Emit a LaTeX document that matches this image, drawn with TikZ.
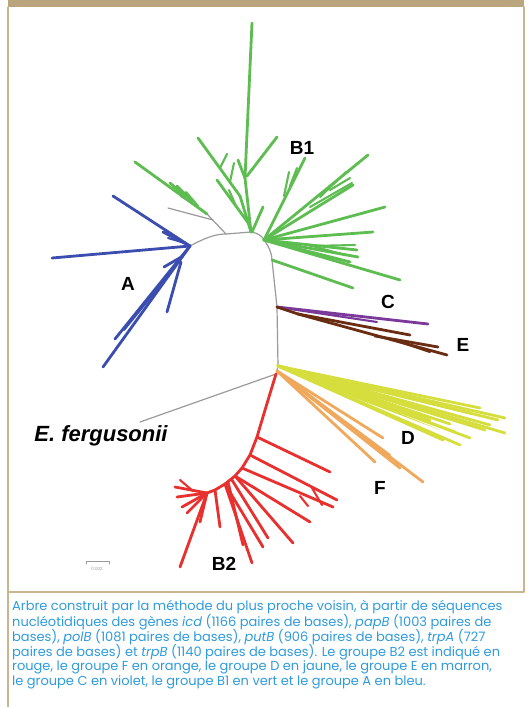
\documentclass[tikz,border=0pt]{standalone}
\usepackage{fontspec}
\setmainfont{Liberation Sans}
\newfontfamily\capfont{Poppins}
\definecolor{tan}{HTML}{BBA57F}
\definecolor{frame}{HTML}{C9B690}
\definecolor{capblue}{HTML}{2F9BDC}
\definecolor{gB}{HTML}{5DBD50}
\definecolor{bA}{HTML}{3B4DAE}
\definecolor{rB}{HTML}{E8302F}
\definecolor{yD}{HTML}{D6DE3E}
\definecolor{oF}{HTML}{F0A95C}
\definecolor{brE}{HTML}{6A2C12}
\definecolor{pC}{HTML}{7B3A99}
\definecolor{gr}{HTML}{9A9A9A}
\begin{document}
\begin{tikzpicture}[x=1pt,y=-1pt,line cap=round,line join=round,
  br/.style={line width=2.8pt},
  thin br/.style={line width=2.1pt},
  grayline/.style={gr,line width=1.2pt},
  lbl/.style={font=\bfseries\fontsize{19}{19}\selectfont,text=black,inner sep=0pt},
  capline/.style={anchor=west,inner sep=0pt,text=capblue,font=\capfont\fontsize{13}{14}\selectfont}]
\useasboundingbox (0,0) rectangle (532,707);
% frame
\fill[tan] (8,0) rectangle (524,7);
\draw[frame,line width=1.2pt] (8,7) -- (8,707);
\draw[frame,line width=1.2pt] (524,7) -- (524,592);
\draw[frame,line width=1.2pt] (8,592) -- (524,592);
% backbone coordinates
\coordinate (nA) at (190,246);
\coordinate (nG1) at (226,234);
\coordinate (nB1) at (251,232);
\coordinate (nB1r) at (264,240);
\coordinate (nB1l) at (272,260);
\coordinate (nC) at (277,307);
\coordinate (nD) at (278,366);
\coordinate (nB2) at (276,374);
\coordinate (nEf) at (140,422);
\draw[grayline] (nA) .. controls (205,238) and (215,234) .. (nG1) -- (nB1)
  .. controls (258,233) and (262,236) .. (nB1r)
  .. controls (270,248) and (272,255) .. (nB1l) -- (nC) -- (nD) -- (nB2);
\draw[grayline] (nB2) -- (nEf);
% gray subtree
\coordinate (nG2) at (207,214);
\draw[grayline] (nG1) -- (nG2);
\draw[grayline] (213,220) -- (168,208);
\draw[grayline] (203,210) -- (180,196);
% green upper-left
\draw[gB,br] (nG2) -- (135,162);
\draw[gB,br] (192,201) -- (177,186);
\draw[gB,br] (185,196) -- (170,183);
\draw[gB,thin br] (198,206) -- (186,192);
% green central
\coordinate (nV) at (245,178);
\draw[gB,br] (nB1) -- (nV) -- (252,23);
\draw[gB,br] (247,176) -- (277,137);
\draw[gB,br] (nV) -- (238,160);
\draw[gB,br] (nB1) -- (240,196) -- (198,138);
\draw[gB,thin br] (230,182) -- (234,163);
\draw[gB,thin br] (220,168) -- (227,154);
\draw[gB,br] (249,224) -- (217,180);
\draw[gB,thin br] (236,206) -- (229,190);
\draw[gB,br] (252,232) -- (263,207);
% green right fan
\draw[gB,br] (nB1r) -- (305,158);
\draw[gB,thin br] (284,196) -- (289,172);
\draw[gB,thin br] (290,186) -- (297,168);
\draw[gB,br] (nB1r) -- (368,155);
\draw[gB,thin br] (320,197) -- (346,172);
\draw[gB,thin br] (330,190) -- (350,178);
\draw[gB,thin br] (310,207) -- (352,183);
\draw[gB,br] (nB1r) -- (353,185);
\draw[gB,br] (nB1r) -- (385,207);
\draw[gB,br] (nB1r) -- (373,232);
\draw[gB,br] (nB1r) -- (357,250);
\draw[gB,br] (nB1r) -- (358,257);
\draw[gB,br] (nB1r) -- (350,262);
\draw[gB,br] (nB1r) -- (400,280);
\draw[gB,thin br] (310,246) -- (355,245);
\draw[gB,thin br] (305,244) -- (345,255);
\draw[gB,br] (nB1l) -- (353,288);
% blue A
\draw[bA,br] (nA) -- (113,196);
\draw[bA,br] (nA) -- (163,232);
\draw[bA,thin br] (185,243) -- (168,238);
\draw[bA,br] (nA) -- (52,258);
\draw[bA,br] (nA) -- (103,367);
\draw[bA,br] (nA) -- (115,339);
\draw[bA,br] (181,262) -- (167,312);
\draw[bA,br] (183,256) -- (164,267);
\draw[bA,thin br] (176,266) -- (124,330);
% purple C and brown E
\coordinate (nE) at (298,314);
\draw[pC,br] (nC) -- (428,324);
\draw[pC,thin br] (nC) -- (377,322);
\draw[brE,br] (nC) -- (nE);
\draw[brE,br] (nE) -- (410,335);
\draw[brE,br] (nE) -- (447,355);
\draw[brE,br] (375,336) -- (438,347);
\draw[brE,thin br] (400,342) -- (430,352);
% yellow D
\foreach \e in {(505,418),(505,433),(480,408),(470,413),(490,425),(460,445),(443,440),(455,432),(470,438),(498,420),(485,430),(450,424),(430,420)}
  \draw[yD,br] (nD) -- \e;
\fill[yD] (nD) -- (370,390) -- (380,405) -- (440,430) -- (360,400) -- cycle;
% orange F
\draw[oF,br] (277,371) -- (423,482);
\draw[oF,br] (277,371) -- (375,462);
\draw[oF,br] (277,371) -- (383,438);
\draw[oF,br] (277,371) -- (400,468);
\draw[oF,thin br] (300,388) -- (390,455);
% red B2
\coordinate (r1) at (257,437);
\coordinate (r2) at (250,455);
\coordinate (r3) at (242,468);
\coordinate (r4) at (235,476);
\coordinate (r5) at (225,484);
\coordinate (r6) at (215,490);
\coordinate (r7) at (207,493);
\draw[rB,br] (nB2) .. controls (268,400) and (262,420) .. (r1) -- (r2) -- (r3) -- (r4) -- (r5) -- (r6) -- (r7);
\draw[rB,br] (r1) -- (330,472);
\draw[rB,br] (r2) -- (337,500);
\draw[rB,thin br] (312,488) -- (322,505);
\draw[rB,br] (r3) -- (333,507);
\draw[rB,thin br] (300,496) -- (308,506);
\draw[rB,br] (r4) -- (310,522);
\draw[rB,br] (r4) -- (293,543);
\draw[rB,br] (r5) -- (263,547);
\draw[rB,br] (r5) -- (252,563);
\draw[rB,br] (232,480) -- (268,538);
\draw[rB,br] (228,482) -- (243,545);
\draw[rB,br] (r6) -- (220,527);
\draw[rB,br] (r7) -- (180,567);
\draw[rB,br] (r7) -- (175,487);
\draw[rB,br] (r7) -- (177,497);
\draw[rB,br] (r7) -- (182,507);
\draw[rB,br] (r7) -- (187,513);
\draw[rB,br] (r7) -- (200,522);
\draw[rB,thin br] (193,491) -- (180,480);
% labels
\node[lbl] (lB1) at (302,148) {B1};
\node[lbl] (lA) at (128,284) {A};
\node[lbl] (lC) at (388,302) {C};
\node[lbl] (lE) at (463,345) {E};
\node[lbl] (lD) at (408,438) {D};
\node[lbl] (lF) at (380,488) {F};
\node[lbl] (lB2) at (224,564) {B2};
\node[lbl,font=\bfseries\itshape\fontsize{22}{22}\selectfont] (lEf) at (101,436) {E. fergusonii};
% scale bar
\draw[gr,line width=0.8pt] (86,564) -- (86,561) -- (109,561) -- (109,564);
\node[gr,inner sep=0pt,font=\fontsize{4.5}{4.5}\selectfont] (sb) at (97,569) {0.002};
% caption
\node[capline] (c1) at (12,607) {Arbre construit par la méthode du plus proche voisin, à partir de séquences};
\node[capline] (c2) at (12,622) {nucléotidiques des gènes \emph{icd} (1166 paires de bases), \emph{papB} (1003 paires de};
\node[capline] (c3) at (12,637) {bases), \emph{polB} (1081 paires de bases), \emph{putB} (906 paires de bases), \emph{trpA} (727};
\node[capline] (c4) at (12,652) {paires de bases) et \emph{trpB} (1140 paires de bases). Le groupe B2 est indiqué en};
\node[capline] (c5) at (12,667) {rouge, le groupe F en orange, le groupe D en jaune, le groupe E en marron,};
\node[capline] (c6) at (12,682) {le groupe C en violet, le groupe B1 en vert et le groupe A en bleu.};
\end{tikzpicture}
\end{document}
